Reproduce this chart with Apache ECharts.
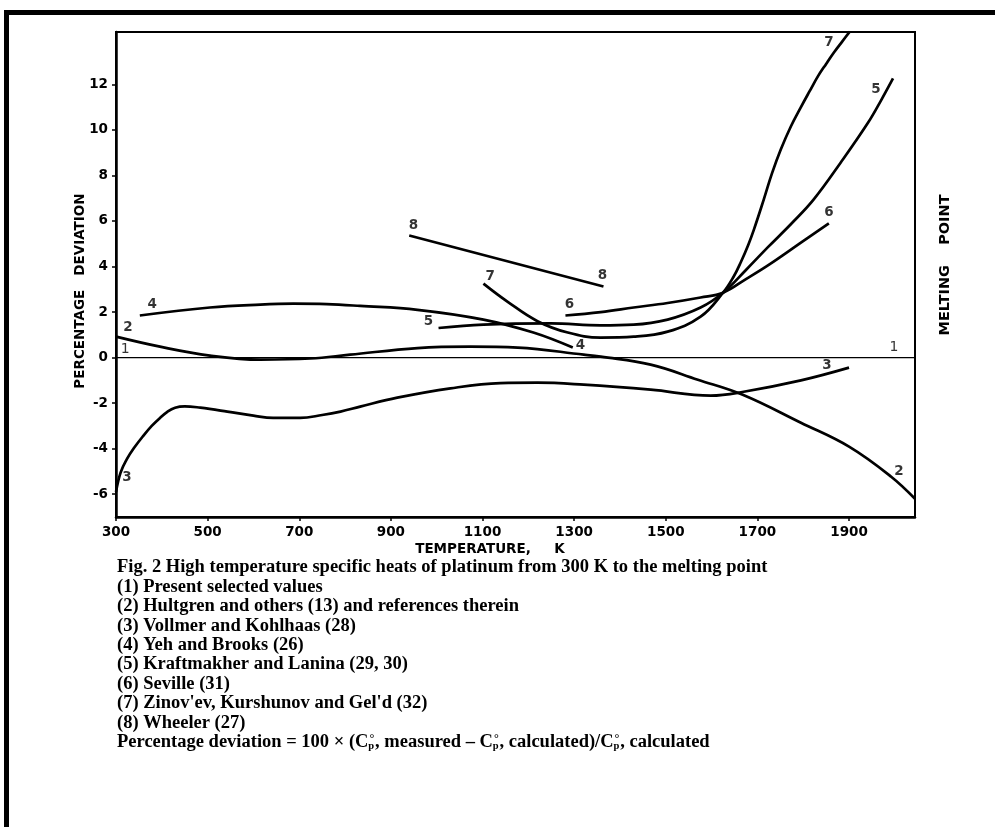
<!DOCTYPE html>
<html>
<head>
<meta charset="utf-8">
<script src="https://cdn.jsdelivr.net/npm/echarts@6/dist/echarts.min.js"></script>
<style>
html,body{margin:0;padding:0;background:#fff;}
#chart{width:995px;height:827px;}
</style>
</head>
<body>
<div id="chart"></div>
<script>
// ---- tick labels ----
const xTicks = [300, 500, 700, 900, 1100, 1300, 1500, 1700, 1900];
const yTicks = [-6, -4, -2, 0, 2, 4, 6, 8, 10, 12];

// ---- series values: [temperature K, percentage deviation] ----
const curve1 = [[300, 0], [2044, 0]];
const curve2 = [[300, 0.92], [396, 0.48], [505, 0.09], [615, -0.09], [724, -0.04], [811, 0.13], [958, 0.42], [1074, 0.48], [1177, 0.44], [1321, 0.13], [1358, 0.04], [1467, -0.31], [1570, -0.97], [1668, -1.63], [1795, -2.86], [1900, -3.91], [1992, -5.23], [2044, -6.2]];
const curve3 = [[300, -5.9], [310, -5.05], [324, -4.45], [340, -3.95], [359, -3.45], [378, -3.0], [396, -2.65], [412, -2.38], [429, -2.2], [450, -2.14], [484, -2.2], [543, -2.37], [600, -2.55], [643, -2.65], [702, -2.65], [750, -2.52], [790, -2.37], [833, -2.15], [914, -1.76], [1030, -1.35], [1139, -1.12], [1220, -1.1], [1321, -1.19], [1467, -1.41], [1598, -1.67], [1670, -1.5], [1795, -1.0], [1900, -0.44]];
const curve4 = [[352, 1.85], [505, 2.2], [615, 2.33], [687, 2.37], [760, 2.35], [833, 2.27], [958, 2.1], [1102, 1.67], [1211, 1.1], [1297, 0.44]];
const curve5 = [[1004, 1.3], [1102, 1.45], [1249, 1.5], [1358, 1.42], [1430, 1.45], [1504, 1.67], [1576, 2.2], [1625, 2.85], [1675, 3.85], [1723, 4.85], [1775, 5.9], [1823, 6.95], [1882, 8.57], [1941, 10.3], [1970, 11.3], [1996, 12.26]];
const curve6 = [[1281, 1.85], [1358, 2.0], [1430, 2.2], [1504, 2.4], [1576, 2.64], [1625, 2.85], [1675, 3.45], [1723, 4.05], [1795, 5.05], [1856, 5.9]];
const curve7 = [[1102, 3.25], [1155, 2.45], [1220, 1.6], [1286, 1.1], [1358, 0.88], [1430, 0.92], [1504, 1.14], [1576, 1.8], [1625, 2.85], [1648, 3.55], [1664, 4.2], [1680, 4.95], [1692, 5.6], [1714, 6.95], [1732, 8.1], [1751, 9.14], [1773, 10.15], [1795, 11.0], [1814, 11.7], [1832, 12.35], [1850, 12.9], [1867, 13.4], [1885, 13.88], [1902, 14.33]];
const curve8 = [[940, 5.36], [1364, 3.12]];

// ---- curve number annotations: [x, y, text] ----
const boldTags = [[326, 1.32, '2'], [2009, -5.0, '2'], [324, -5.27, '3'], [1852, -0.35, '3'], [379, 2.33, '4'], [1314, 0.53, '4'], [982, 1.58, '5'], [1959, 11.78, '5'], [1290, 2.33, '6'], [1856, 6.37, '6'], [1117, 3.56, '7'], [1856, 13.85, '7'], [949, 5.8, '8'], [1362, 3.6, '8']];
const thinTags = [[320, 0.35, '1'], [1998, 0.44, '1']];

// ---- texts ----
const xTitle = 'TEMPERATURE,     K';
const yTitle = 'PERCENTAGE   DEVIATION';
const rightTitle = 'MELTING    POINT';
const captionLines = [
  'Fig. 2 High temperature specific heats of platinum from 300 K to the melting point',
  '(1) Present selected values',
  '(2) Hultgren and others (13) and references therein',
  '(3) Vollmer and Kohlhaas (28)',
  '(4) Yeh and Brooks (26)',
  '(5) Kraftmakher and Lanina (29, 30)',
  '(6) Seville (31)',
  "(7) Zinov'ev, Kurshunov and Gel'd (32)",
  '(8) Wheeler (27)'
];

const chart = echarts.init(document.getElementById('chart'), null, {renderer: 'canvas'});

const sansBold = {fontFamily: 'DejaVu Sans', fontWeight: 'bold'};
function curve(data, width) {
  return {
    type: 'line', data: data, showSymbol: false, smooth: 0.4, silent: true,
    lineStyle: {color: '#000', width: width || 2.7}, z: 3
  };
}

const capFont = {fontFamily: 'Liberation Serif', fontWeight: 'bold', fontSize: 18.5, fill: '#000'};
const capText = captionLines.join('\n');

const option = {
  animation: false,
  backgroundColor: '#fff',
  grid: {left: 116, right: 80, top: 32, bottom: 310, show: true, borderColor: '#000', borderWidth: 2, backgroundColor: 'transparent'},
  xAxis: {
    type: 'value', min: 300, max: 2044,
    splitLine: {show: false},
    axisLine: {onZero: false, lineStyle: {color: '#000', width: 2.5}},
    axisTick: {customValues: xTicks, length: 4, lineStyle: {color: '#000', width: 1.5}},
    axisLabel: Object.assign({customValues: xTicks, color: '#000', fontSize: 13.5, margin: 8, formatter: v => String(v)}, sansBold)
  },
  yAxis: {
    type: 'value', min: -7, max: 14.3,
    splitLine: {show: false},
    axisLine: {onZero: false, lineStyle: {color: '#000', width: 2.5}},
    axisTick: {customValues: yTicks, length: 4, lineStyle: {color: '#000', width: 1.5}},
    axisLabel: Object.assign({customValues: yTicks, color: '#000', fontSize: 13.5, margin: 8, formatter: v => String(v)}, sansBold)
  },
  series: [
    curve(curve1, 1.3), curve(curve2), curve(curve3), curve(curve4),
    curve(curve5), curve(curve6), curve(curve7), curve(curve8),
    {
      type: 'scatter', data: boldTags, symbolSize: 0, silent: true, z: 5,
      label: Object.assign({show: true, position: 'inside', color: '#000', fontSize: 13.5, formatter: p => p.value[2]}, sansBold)
    },
    {
      type: 'scatter', data: thinTags, symbolSize: 0, silent: true, z: 5,
      label: {show: true, position: 'inside', color: '#000', fontSize: 14, fontFamily: 'DejaVu Sans', fontWeight: 'normal', formatter: p => p.value[2]}
    }
  ],
  graphic: [
    {type: 'rect', shape: {x: 4, y: 10, width: 991, height: 5}, style: {fill: '#000'}, silent: true},
    {type: 'rect', shape: {x: 4, y: 10, width: 5, height: 817}, style: {fill: '#000'}, silent: true},
    {type: 'text', x: 490, y: 549, style: Object.assign({text: xTitle, fontSize: 13.5, fill: '#000', align: 'center', verticalAlign: 'middle'}, sansBold), silent: true},
    {type: 'text', x: 80, y: 291, rotation: Math.PI / 2, style: Object.assign({text: yTitle, fontSize: 13.5, fill: '#000', align: 'center', verticalAlign: 'middle'}, sansBold), silent: true},
    {type: 'text', x: 945, y: 265, rotation: Math.PI / 2, style: Object.assign({text: rightTitle, fontSize: 14.5, fill: '#000', align: 'center', verticalAlign: 'middle'}, sansBold), silent: true},
    {type: 'text', x: 117, y: 558, style: Object.assign({text: capText, lineHeight: 19.4, align: 'left', verticalAlign: 'top'}, capFont), silent: true},
    {type: 'text', x: 117, y: 732.6, style: {
      text: '{t|Percentage deviation = 100 × (C}{s|°}{b|p}{t|, measured – C}{s|°}{b|p}{t|, calculated)/C}{s|°}{b|p}{t|, calculated}',
      align: 'left', verticalAlign: 'top',
      rich: {
        t: Object.assign({lineHeight: 19.4}, capFont),
        s: {fontFamily: 'Liberation Serif', fontWeight: 'bold', fontSize: 12, fill: '#000', verticalAlign: 'top', lineHeight: 19.4, padding: [0, 0, 10, 1]},
        b: {fontFamily: 'Liberation Serif', fontWeight: 'bold', fontSize: 10.5, fill: '#000', verticalAlign: 'bottom', lineHeight: 19.4, padding: [6, 1, 0, -6]}
      }
    }, silent: true}
  ]
};
chart.setOption(option);
</script>
</body>
</html>
